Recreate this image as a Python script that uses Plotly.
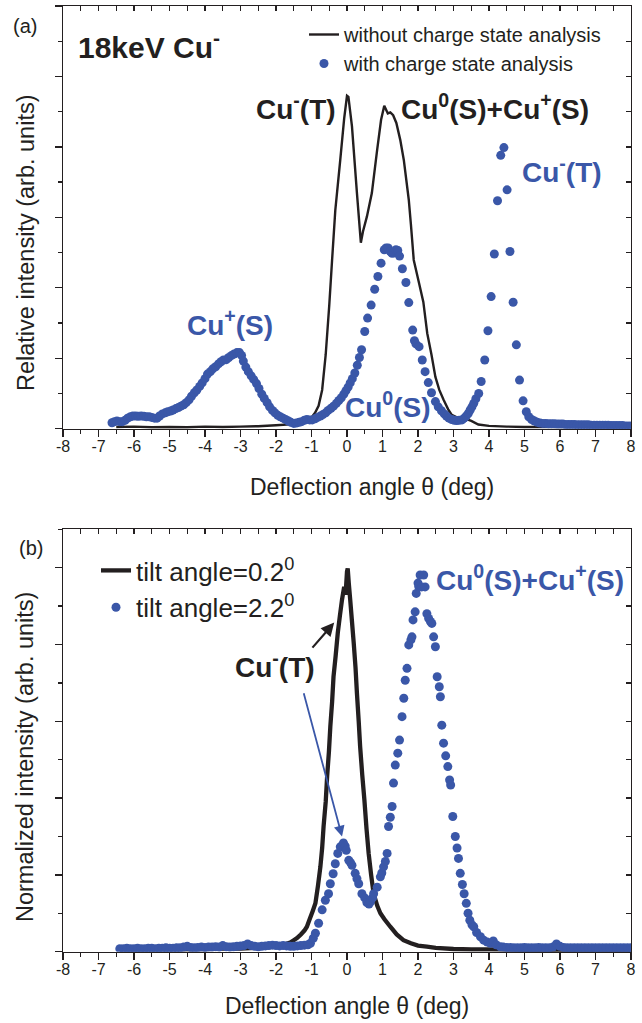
import plotly.graph_objects as go

# ---------------- Panel (a) data ----------------
a_line_theta = [-6.5, -6.0, -5.5, -5.0, -4.5, -4.0, -3.5, -3.0, -2.5, -2.0, -1.5, -1.2, -1.0, -0.9, -0.8,
                -0.7, -0.6, -0.5, -0.42, -0.33, -0.19, -0.08, 0.0, 0.04, 0.14, 0.28, 0.39, 0.45, 0.56,
                0.70, 0.85, 0.96, 1.05, 1.15, 1.22, 1.30, 1.39, 1.5, 1.6, 1.74, 1.8, 1.88, 2.03, 2.15,
                2.26, 2.38, 2.49, 2.6, 2.72, 2.85, 2.95, 3.08, 3.2, 3.35, 3.5, 3.7, 4.0, 4.5, 5.0, 5.5,
                6.0, 7.0, 8.0]
a_line_val = [0.05, 0.06, 0.04, 0.05, 0.04, 0.06, 0.05, 0.06, 0.07, 0.1, 0.13, 0.2, 0.32, 0.45, 0.65,
              1.1, 2.1, 3.5, 4.79, 6.2, 7.63, 8.8, 9.45, 9.42, 8.58, 6.69, 5.28, 5.6, 6.02,
              6.69, 7.92, 8.77, 9.17, 8.95, 8.98, 8.9, 8.68, 8.2, 7.63, 6.5, 5.8, 4.79, 4.13, 3.6,
              2.71, 2.1, 1.47, 1.1, 0.82, 0.55, 0.39, 0.33, 0.3, 0.28, 0.22, 0.12, 0.08, 0.06, 0.05, 0.05,
              0.05, 0.05, 0.05]

a_dot_theta = [-6.62, -6.55, -6.48, -6.4, -6.33, -6.25, -6.18, -6.1, -6.03, -5.95, -5.88, -5.8, -5.72,
               -5.65, -5.57, -5.5, -5.42, -5.35, -5.28, -5.2, -5.12, -5.05, -4.97, -4.9, -4.82, -4.75,
               -4.68, -4.6, -4.53, -4.45, -4.38, -4.3, -4.23, -4.15, -4.08, -4.0, -3.93, -3.85, -3.78,
               -3.7, -3.62, -3.55, -3.48, -3.4, -3.33, -3.25, -3.18, -3.1, -3.03, -2.97, -2.92, -2.85,
               -2.78, -2.7, -2.63, -2.55, -2.48, -2.4, -2.33, -2.25, -2.18, -2.1, -2.03, -1.95, -1.88,
               -1.8, -1.73, -1.65, -1.58, -1.5, -1.43, -1.35, -1.28, -1.2, -1.13, -1.05, -0.98, -0.9,
               -0.83, -0.75, -0.68, -0.6, -0.53, -0.45, -0.38, -0.3, -0.23, -0.16, -0.09, -0.03, 0.03,
               0.09, 0.15, 0.22, 0.29, 0.35, 0.41, 0.5, 0.58, 0.68, 0.78, 0.87, 0.96, 1.05, 1.1, 1.16,
               1.22, 1.27, 1.33, 1.38, 1.43, 1.48, 1.56, 1.66, 1.74, 1.85, 1.9, 1.94, 2.03, 2.12, 2.2,
               2.29, 2.38, 2.49, 2.57, 2.66, 2.74, 2.8, 2.87, 2.95, 3.02, 3.09, 3.16, 3.24, 3.3, 3.36,
               3.42, 3.47, 3.52, 3.57, 3.63, 3.71, 3.78, 3.88, 3.97, 4.06, 4.15, 4.24, 4.33, 4.42, 4.51,
               4.59, 4.68, 4.77, 4.86, 4.96, 5.05, 5.12, 5.2, 5.28, 5.36, 5.44, 5.52, 5.6, 5.68, 5.76,
               5.84, 5.92, 6.0, 6.08, 6.16, 6.24, 6.32, 6.4, 6.48, 6.56, 6.64, 6.72, 6.8, 6.88, 6.96,
               7.04, 7.12, 7.2, 7.28, 7.36, 7.44, 7.52, 7.6, 7.68, 7.76, 7.84, 7.92, 8.0]
a_dot_val = [0.17, 0.2, 0.22, 0.2, 0.2, 0.24, 0.3, 0.34, 0.36, 0.36, 0.35, 0.36, 0.35,
             0.34, 0.34, 0.32, 0.3, 0.3, 0.36, 0.42, 0.45, 0.48, 0.5, 0.53, 0.57, 0.6,
             0.64, 0.68, 0.74, 0.82, 0.92, 1.02, 1.1, 1.2, 1.3, 1.42, 1.55, 1.62, 1.7,
             1.76, 1.84, 1.9, 1.95, 1.96, 2.02, 2.08, 2.12, 2.16, 2.16, 2.08, 1.92, 1.75,
             1.62, 1.5, 1.4, 1.28, 1.14, 0.98, 0.86, 0.74, 0.62, 0.52, 0.45, 0.38, 0.34,
             0.3, 0.26, 0.22, 0.18, 0.15, 0.16, 0.18, 0.2, 0.24, 0.26, 0.25, 0.25, 0.28,
             0.32, 0.36, 0.4, 0.45, 0.52, 0.58, 0.64, 0.72, 0.8, 0.88, 0.98, 1.08, 1.18,
             1.3, 1.42, 1.58, 1.8, 2.02, 2.24, 2.76, 3.14, 3.51, 3.96, 4.32, 4.7, 5.08, 5.13, 5.13,
             5.03, 4.98, 4.99, 5.08, 5.06, 4.9, 4.54, 4.15, 3.58, 2.8, 2.5, 2.41, 2.33, 1.95, 1.62,
             1.31, 1.02, 0.77, 0.62, 0.51, 0.42, 0.36, 0.3, 0.26, 0.24, 0.23, 0.24, 0.25, 0.3, 0.36,
             0.44, 0.53, 0.62, 0.72, 0.85, 1.0, 1.34, 1.95, 2.78, 3.75, 4.96, 6.47, 7.76, 7.98, 6.78,
             5.03, 3.59, 2.38, 1.38, 0.79, 0.48, 0.34, 0.26, 0.22, 0.18, 0.16, 0.15, 0.15, 0.14, 0.14,
             0.14, 0.13, 0.13, 0.13, 0.12, 0.12, 0.12, 0.12, 0.11, 0.11, 0.11, 0.11, 0.11, 0.1, 0.1,
             0.1, 0.1, 0.1, 0.1, 0.1, 0.09, 0.09, 0.09, 0.09, 0.09, 0.08, 0.08, 0.08]

# ---------------- Panel (b) data ----------------
b_line_theta = [-6.4, -6.0, -5.5, -5.0, -4.5, -4.0, -3.5, -3.0, -2.5, -2.2, -2.0, -1.8, -1.6, -1.5,
                -1.4, -1.3, -1.2, -1.13, -1.05, -0.97, -0.89, -0.82, -0.75, -0.7, -0.66, -0.6, -0.56,
                -0.51, -0.47, -0.42, -0.38, -0.32, -0.26, -0.2, -0.14, -0.08, -0.04, 0.0, 0.02, 0.05,
                0.09, 0.14, 0.19, 0.24, 0.28, 0.33, 0.37, 0.43, 0.49, 0.55, 0.61, 0.68, 0.75, 0.85,
                0.94, 1.05, 1.22, 1.4, 1.59, 1.8, 2.0, 2.25, 2.5, 3.0, 3.5, 4.0, 5.0, 6.0, 7.0, 8.0]
b_line_val = [0.006, 0.007, 0.006, 0.007, 0.006, 0.007, 0.008, 0.008, 0.01, 0.012, 0.014, 0.018, 0.024, 0.03,
              0.036, 0.045, 0.055, 0.065, 0.085, 0.105, 0.126, 0.17, 0.221, 0.27, 0.326, 0.39, 0.456,
              0.52, 0.586, 0.65, 0.716, 0.77, 0.83, 0.875, 0.917, 0.95, 0.93, 0.99, 0.998, 0.96,
              0.917, 0.86, 0.803, 0.74, 0.673, 0.6, 0.534, 0.46, 0.395, 0.32, 0.256, 0.2, 0.151, 0.12,
              0.1, 0.085, 0.065, 0.045, 0.03, 0.022, 0.016, 0.013, 0.01, 0.007, 0.006, 0.006, 0.005,
              0.005, 0.005, 0.005]

b_dot_theta = [-6.4, -6.3, -6.2, -6.1, -6.0, -5.9, -5.8, -5.7, -5.6, -5.5, -5.4, -5.3, -5.2, -5.1, -5.0,
               -4.9, -4.8, -4.7, -4.6, -4.5, -4.4, -4.3, -4.2, -4.1, -4.0, -3.9, -3.8, -3.7, -3.6, -3.5,
               -3.4, -3.3, -3.2, -3.1, -3.0, -2.9, -2.8, -2.7, -2.6, -2.5, -2.4, -2.3, -2.2, -2.1, -2.0,
               -1.9, -1.8, -1.7, -1.6, -1.5, -1.4, -1.3, -1.2, -1.1, -1.03, -0.95, -0.89, -0.8, -0.7,
               -0.61, -0.52, -0.47, -0.39, -0.33, -0.26, -0.19, -0.1, -0.05, -0.02, 0.05, 0.1, 0.14,
               0.23, 0.28, 0.33, 0.42, 0.5, 0.56, 0.62, 0.66, 0.72, 0.75, 0.85, 0.94, 0.98, 1.03, 1.08,
               1.13, 1.17, 1.22, 1.27, 1.31, 1.36, 1.43, 1.48, 1.55, 1.6, 1.64, 1.69, 1.74, 1.8, 1.83,
               1.86, 1.92, 1.95, 2.0, 2.02, 2.06, 2.1, 2.16, 2.2, 2.25, 2.3, 2.35, 2.39, 2.44, 2.49,
               2.54, 2.6, 2.63, 2.67, 2.72, 2.78, 2.84, 2.89, 2.92, 2.98, 3.05, 3.1, 3.14, 3.19, 3.25,
               3.3, 3.36, 3.41, 3.46, 3.52, 3.57, 3.65, 3.76, 3.85, 3.95, 4.04, 4.12, 4.2, 4.32, 4.4,
               4.5, 4.6, 4.7, 4.8, 4.9, 5.0, 5.1, 5.2, 5.3, 5.4, 5.5, 5.6, 5.7, 5.8, 5.9, 6.0, 6.1,
               6.2, 6.3, 6.4, 6.5, 6.6, 6.7, 6.8, 6.9, 7.0, 7.1, 7.2, 7.3, 7.4, 7.5, 7.6, 7.7, 7.8,
               7.9, 8.0]
b_dot_val = [0.008, 0.008, 0.009, 0.008, 0.008, 0.009, 0.008, 0.008, 0.009, 0.009, 0.008, 0.009, 0.009, 0.01, 0.009,
             0.009, 0.01, 0.01, 0.012, 0.014, 0.011, 0.01, 0.011, 0.012, 0.011, 0.012, 0.012, 0.013, 0.012, 0.016,
             0.013, 0.012, 0.013, 0.014, 0.015, 0.016, 0.02, 0.016, 0.014, 0.013, 0.014, 0.015, 0.016, 0.017, 0.016,
             0.015, 0.016, 0.015, 0.014, 0.014, 0.015, 0.016, 0.017, 0.018, 0.022, 0.035, 0.048, 0.074, 0.109,
             0.134, 0.151, 0.177, 0.203, 0.229, 0.256, 0.273, 0.283, 0.275, 0.264, 0.238, 0.232, 0.225,
             0.204, 0.19, 0.177, 0.151, 0.14, 0.128, 0.124, 0.13, 0.14, 0.151, 0.168, 0.195, 0.205, 0.221, 0.235,
             0.256, 0.326, 0.35, 0.378, 0.439, 0.486, 0.517, 0.551, 0.612, 0.66, 0.707, 0.738, 0.799, 0.812, 0.82,
             0.864, 0.885, 0.933, 0.96, 0.951, 0.981, 0.95, 0.981, 0.95, 0.88, 0.868, 0.86, 0.855, 0.82, 0.794,
             0.716, 0.69, 0.664, 0.59, 0.543, 0.51, 0.482, 0.447, 0.434, 0.352, 0.3, 0.27, 0.243, 0.204, 0.175,
             0.151, 0.126, 0.1, 0.082, 0.07, 0.065, 0.05, 0.039, 0.03, 0.025, 0.022, 0.028, 0.018, 0.013, 0.012,
             0.011, 0.011, 0.01, 0.01, 0.01, 0.011, 0.01, 0.01, 0.01, 0.011, 0.01, 0.01, 0.01, 0.012, 0.02, 0.014, 0.011,
             0.01, 0.01, 0.01, 0.01, 0.01, 0.01, 0.01, 0.01, 0.01, 0.01, 0.01, 0.01, 0.01, 0.01, 0.01, 0.01, 0.01,
             0.01, 0.01]

x_tick_vals = list(range(-8, 9))
x_tick_text = [str(v) for v in x_tick_vals]

BLUE = "#3a57a8"
BLACK = "#231f20"
FONT = "Liberation Sans, Arial, sans-serif"
W, H = 642, 1023
L, R = 63, 11


def px(xp):
    return (xp - L) / (W - L - R)


def py(yp):
    return 1 - yp / H


fig = go.Figure()

fig.add_trace(go.Scatter(x=a_line_theta, y=a_line_val, mode="lines", name="without charge state analysis",
                         line=dict(color=BLACK, width=2.4, simplify=False), xaxis="x", yaxis="y",
                         legend="legend", legendgroup="a1"))
fig.add_trace(go.Scatter(x=a_dot_theta, y=a_dot_val, mode="markers", name="with charge state analysis",
                         marker=dict(color=BLUE, size=9), xaxis="x2", yaxis="y2", legend="legend",
                         legendgroup="a2"))
fig.add_trace(go.Scatter(x=b_line_theta, y=b_line_val, mode="lines", name="tilt angle=0.2<sup>0</sup>",
                         line=dict(color=BLACK, width=4.3, simplify=False), xaxis="x3", yaxis="y3",
                         legend="legend2", legendgroup="b1"))
fig.add_trace(go.Scatter(x=b_dot_theta, y=b_dot_val, mode="markers", name="tilt angle=2.2<sup>0</sup>",
                         marker=dict(color=BLUE, size=9), xaxis="x4", yaxis="y4", legend="legend2",
                         legendgroup="b2"))

YA = [py(428.7), py(6)]
YB = [py(951.7), py(529.3)]


def xbottom(anchor):
    return dict(domain=[0, 1], anchor=anchor, range=[-8, 8], tickmode="array", tickvals=x_tick_vals,
                ticktext=x_tick_text, ticks="outside", ticklen=7, tickwidth=1.3, tickcolor=BLACK,
                minor=dict(dtick=0.5, tick0=0, ticks="outside", ticklen=4, tickwidth=1.3, tickcolor=BLACK),
                showline=True, mirror=True, linewidth=1.3, linecolor=BLACK, showgrid=False, zeroline=False,
                automargin=False, ticklabeloverflow="allow", ticklabelstandoff=-4,
                tickfont=dict(family=FONT, size=16, color=BLACK))


def xtop(over, anchor):
    return dict(overlaying=over, side="top", anchor=anchor, domain=[0, 1], range=[-8, 8], dtick=0.5, tick0=0,
                ticks="inside", ticklen=5, tickwidth=1.3, tickcolor=BLACK, showticklabels=False,
                showline=True, linewidth=1.3, linecolor=BLACK, showgrid=False, zeroline=False,
                automargin=False)


def yleft(dom, anchor, rng, dt):
    return dict(domain=dom, anchor=anchor, range=rng, dtick=dt, tick0=0, ticks="outside", ticklen=7,
                tickwidth=1.3, tickcolor=BLACK,
                minor=dict(dtick=dt / 2, tick0=0, ticks="outside", ticklen=4, tickwidth=1.3, tickcolor=BLACK),
                showticklabels=False, showline=True, mirror=True, linewidth=1.3, linecolor=BLACK,
                showgrid=False, zeroline=False, automargin=False)


def yright(over, anchor, dom, rng, dt):
    return dict(overlaying=over, side="right", anchor=anchor, domain=dom, range=rng, dtick=dt, tick0=0,
                ticks="inside", ticklen=5, tickwidth=1.3, tickcolor=BLACK, showticklabels=False,
                showline=True, linewidth=1.3, linecolor=BLACK, showgrid=False, zeroline=False,
                automargin=False)


fig.update_layout(
    width=W, height=H,
    margin=dict(l=L, r=R, t=0, b=0, autoexpand=False),
    paper_bgcolor="white", plot_bgcolor="white",
    font=dict(family=FONT, color=BLACK),
    hovermode=False,
    xaxis=xbottom("y"),
    xaxis2=xtop("x", "y2"),
    yaxis=yleft(YA, "x", [0, 12], 2),
    yaxis2=yright("y", "x2", YA, [0, 12], 1),
    xaxis3=xbottom("y3"),
    xaxis4=xtop("x3", "y4"),
    yaxis3=yleft(YB, "x3", [0, 1.1], 0.2),
    yaxis4=yright("y3", "x4", YB, [0, 1.1], 0.1),
    legend=dict(x=px(304), y=py(15), xanchor="left", yanchor="top",
                bgcolor="rgba(0,0,0,0)", font=dict(family=FONT, size=20, color=BLACK),
                tracegroupgap=0),
    legend2=dict(x=px(96), y=py(547), xanchor="left", yanchor="top",
                 bgcolor="rgba(0,0,0,0)", font=dict(family=FONT, size=26, color=BLACK),
                 tracegroupgap=0),
    showlegend=True,
)


def lab(text, x, y, color, size, xref, yref):
    fig.add_annotation(text=f"<b>{text}</b>", x=x, y=y, xref=xref, yref=yref, showarrow=False,
                       font=dict(family=FONT, size=size, color=color), xanchor="center", yanchor="middle")


def plain(text, xp, yp, size, angle=0):
    fig.add_annotation(text=text, x=px(xp), y=py(yp), xref="paper", yref="paper", showarrow=False,
                       textangle=angle, font=dict(family=FONT, size=size, color=BLACK),
                       xanchor="center", yanchor="middle")


# Axis titles (placed as in the reference)
plain("Deflection angle θ (deg)", 372, 487, 23)
plain("Deflection angle θ (deg)", 347, 1006, 23)
plain("Relative intensity (arb. units)", 26, 243, 23.5, -90)
plain("Normalized intensity (arb. units)", 25, 757, 23.5, -90)
plain("(a)", 25, 26, 20)
plain("(b)", 31, 548, 20)

# Panel (a) labels
lab("18keV Cu<sup>-</sup>", -5.57, 10.9, BLACK, 30, "x", "y")
lab("Cu<sup>-</sup>(T)", -1.43, 9.14, BLACK, 28, "x", "y")
lab("Cu<sup>0</sup>(S)+Cu<sup>+</sup>(S)", 4.18, 9.14, BLACK, 28, "x", "y")
lab("Cu<sup>-</sup>(T)", 6.06, 7.34, BLUE, 28, "x", "y")
lab("Cu<sup>+</sup>(S)", -3.29, 3.0, BLUE, 28, "x", "y")
lab("Cu<sup>0</sup>(S)", 1.16, 0.67, BLUE, 28, "x", "y")
# Panel (b) labels
lab("Cu<sup>0</sup>(S)+Cu<sup>+</sup>(S)", 5.16, 0.973, BLUE, 28, "x3", "y3")
lab("Cu<sup>-</sup>(T)", -2.02, 0.747, BLACK, 28, "x3", "y3")

# Arrows in panel (b)
fig.add_annotation(x=-0.36, y=0.857, ax=-1.01, ay=0.788, xref="x3", yref="y3", axref="x3", ayref="y3",
                   text="", showarrow=True, arrowhead=2, arrowsize=1.2, arrowwidth=2.2, arrowcolor=BLACK)
fig.add_annotation(x=-0.14, y=0.30, ax=-1.23, ay=0.677, xref="x3", yref="y3", axref="x3", ayref="y3",
                   text="", showarrow=True, arrowhead=2, arrowsize=1.2, arrowwidth=1.8, arrowcolor=BLUE)

fig.write_html("out.html", config={"displayModeBar": False, "staticPlot": True},
               post_script="document.body.style.margin='0px';")
